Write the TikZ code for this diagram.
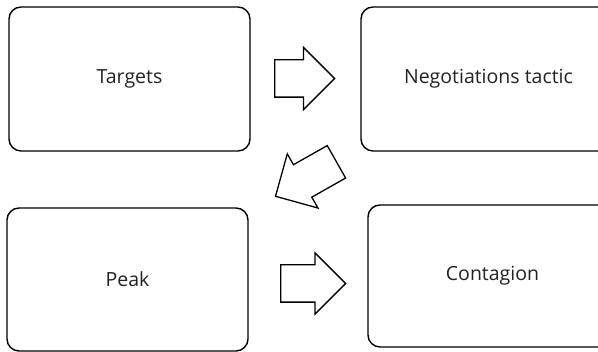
\documentclass[tikz,border=0pt]{standalone}
\usepackage{fontspec}
\setmainfont{Open Sans}
\usepackage{tikz}
\usetikzlibrary{shapes.arrows,calc}
\definecolor{inkgray}{HTML}{222222}

\begin{document}
\begin{tikzpicture}[
  x=1pt,y=1pt,
  font=\fontsize{19.5}{23}\selectfont,
  stage/.style={draw=black,line width=1.4pt,rounded corners=12pt,
                fill=white,text=inkgray,align=center},
  blockarr/.style={single arrow,draw=black,line width=1.3pt,fill=white,
                   inner xsep=0pt,inner ysep=18pt,single arrow tip angle=90,
                   single arrow head extend=12.5pt,anchor=tail}
]
\useasboundingbox (0,0) rectangle (598,352);
% ---- top row
\node[stage,minimum width=241pt,minimum height=144pt] (tgt) at (129.5,273) {Targets};
\node[stage,minimum width=255pt,minimum height=144pt] (neg) at (488.5,273) {Negotiations tactic};
% ---- bottom row
\node[stage,minimum width=241pt,minimum height=143pt] (peak) at (127.5,72.5) {Peak};
\node[stage,minimum width=249pt,minimum height=142pt] (cont) at (492.5,76) {Contagion};

% ---- block arrows between the stages
\node[blockarr,minimum height=60pt] (a1) at (274,273.5) {};
\node[blockarr,minimum height=70pt,rotate=209.5] (a2) at (337,190.5) {};
\node[blockarr,minimum height=65pt,single arrow head extend=12pt] (a3) at (280,68.5) {};
\end{tikzpicture}
\end{document}
